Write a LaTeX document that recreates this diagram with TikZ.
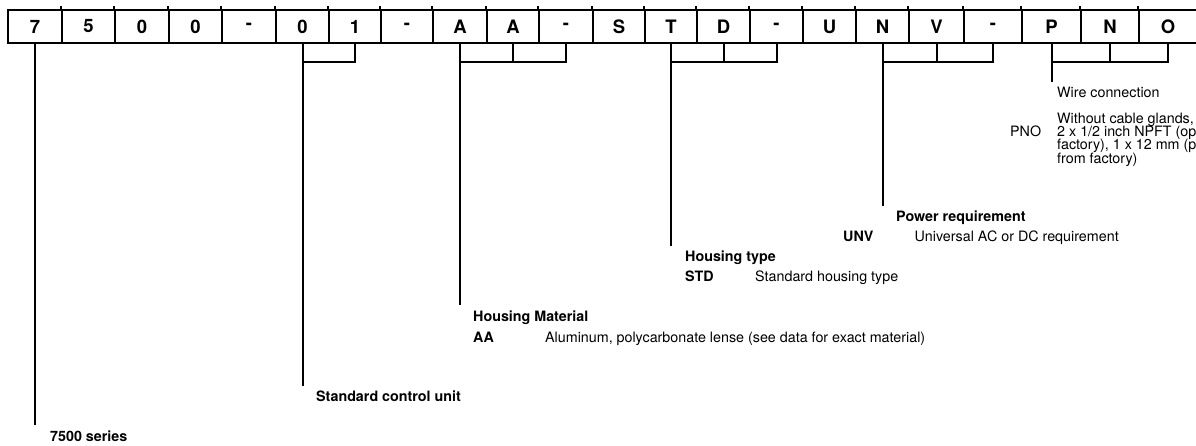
\documentclass[tikz,border=0pt]{standalone}
\usepackage{fontspec}
\setmainfont{TeX Gyre Heros}
\begin{document}
\begin{tikzpicture}[x=1bp,y=-1bp,
  cell/.style={draw, line width=2.6bp, minimum height=33bp, inner sep=0pt,
    font=\fontsize{18.5bp}{20bp}\selectfont\bfseries},
  brk/.style={line width=2bp},
  lead/.style={line width=2bp},
  tick/.style={line width=2bp},
  ttl/.style={anchor=base west, inner sep=0pt, font=\fontsize{14.3bp}{16bp}\selectfont\bfseries},
  txt/.style={anchor=base west, inner sep=0pt, font=\fontsize{14.3bp}{16bp}\selectfont},
]
\useasboundingbox (0,0) rectangle (1196,446);

% code cells
\foreach \i/\l/\r/\t in {0/8/62/7, 1/62/115/5, 2/115/169/0, 3/169/222/0, 4/222/276/-,
  5/276/329/0, 6/329/381/1, 7/381/433/-, 8/433/487/A, 9/487/539/A, 10/539/593/-,
  11/593/645/S, 12/645/697/T, 13/697/750/D, 14/750/803/-, 15/803/856/U, 16/856/909/N,
  17/909/964/V, 18/964/1022/-, 19/1022/1081/P, 20/1081/1139/N, 21/1139/1197/O}
  \node[cell, minimum width={(\r-\l)*1bp}] (c\i) at ({(\l+\r)/2},26.5) {\t};
\foreach \i in {1,...,21}
  \draw[tick] (c\i.north west) -- ++(0,-2.5);

% bracket level
\coordinate (h) at (0,62);

% brackets
\draw[brk] (c5.south) |- (c6.south |- h) -- (c6.south);
\draw[brk] (c8.south) |- (c10.south |- h) -- (c10.south);
\draw[brk] (c9.south) -- (c9.south |- h);
\draw[brk] (c12.south) |- (c14.south |- h) -- (c14.south);
\draw[brk] (c13.south) -- (c13.south |- h);
\draw[brk] (c16.south) |- (c18.south |- h) -- (c18.south);
\draw[brk] (c17.south) -- (c17.south |- h);
\draw[brk] (c19.south) |- (c21.south |- h) -- (c21.south);
\draw[brk] (c20.south) -- (c20.south |- h);

% lead ends
\path (c0.south |- 0,425) coordinate (e0);
\path (c5.south |- 0,386) coordinate (e5);
\path (c8.south |- 0,305) coordinate (e8);
\path (c12.south |- 0,246.5) coordinate (e12);
\path (c16.south |- 0,206) coordinate (e16);
\path (c19.south |- 0,82) coordinate (e19);

\draw[lead] (c0.south) -- (e0);
\draw[lead] (c5.south) -- (e5);
\draw[lead] (c8.south) -- (e8);
\draw[lead] (c12.south) -- (e12);
\draw[lead] (c16.south) -- (e16);
\draw[lead] (c19.south) -- (e19);

% labels
\node[ttl] (series) at (50,441.7) {7500 series};
\node[ttl] (ctrl) at (316,401.7) {Standard control unit};

\node[ttl] (hm) at (473,321.7) {Housing Material};
\node[ttl] (aa) at (473,342.7) {AA};
\node[txt] (aad) at (545,342.7) {Aluminum, polycarbonate lense (see data for exact material)};

\node[ttl] (ht) at (685,261.7) {Housing type};
\node[ttl] (std) at (685,281.7) {STD};
\node[txt] (stdd) at (755,281.7) {Standard housing type};

\node[ttl] (pr) at (896,221.7) {Power requirement};
\node[ttl] (unv) at (843,241.7) {UNV};
\node[txt] (unvd) at (914.5,241.7) {Universal AC or DC requirement};

\node[txt] (wc) at (1057,97.5) {Wire connection};
\node[txt] (pno) at (1010,136.7) {PNO};
\node[txt] (w1) at (1057,123.3) {Without cable glands,};
\node[txt] (w2) at (1057,136.7) {2 x 1/2 inch NPFT (op};
\node[txt] (w3) at (1057,150) {factory), 1 x 12 mm (p};
\node[txt] (w4) at (1057,163.3) {from factory)};
\end{tikzpicture}
\end{document}
